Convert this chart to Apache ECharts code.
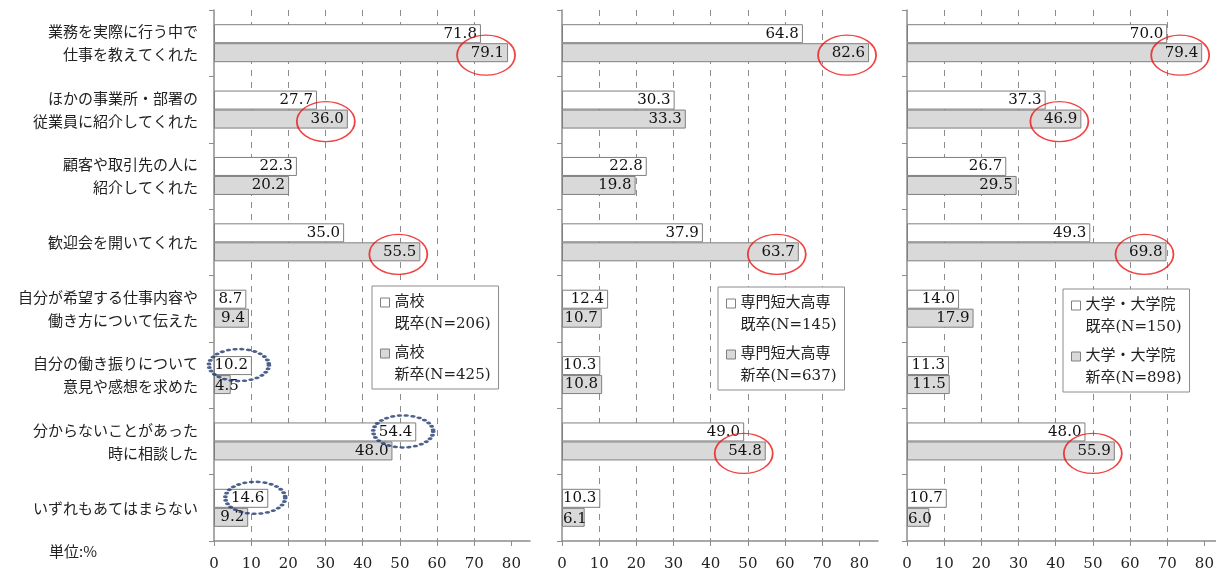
<!DOCTYPE html>
<html>
<head>
<meta charset="utf-8">
<script src="https://cdn.jsdelivr.net/npm/echarts@6/dist/echarts.min.js"></script>
<style>
html,body{margin:0;padding:0;background:#fff;}
#c1{width:1216px;height:577px;}
</style>
</head>
<body>
<div id="c1"></div>
<script>
// 項目
var categories = [
  '業務を実際に行う中で\n仕事を教えてくれた',
  'ほかの事業所・部署の\n従業員に紹介してくれた',
  '顧客や取引先の人に\n紹介してくれた',
  '歓迎会を開いてくれた',
  '自分が希望する仕事内容や\n働き方について伝えた',
  '自分の働き振りについて\n意見や感想を求めた',
  '分からないことがあった\n時に相談した',
  'いずれもあてはまらない'
];
var xTicks = [0, 10, 20, 30, 40, 50, 60, 70, 80];

// 高校
var kisotsuKoko   = [71.8, 27.7, 22.3, 35.0, 8.7, 10.2, 54.4, 14.6];
var shinsotsuKoko = [79.1, 36.0, 20.2, 55.5, 9.4, 4.5, 48.0, 9.2];
// 専門短大高専
var kisotsuSenmon   = [64.8, 30.3, 22.8, 37.9, 12.4, 10.3, 49.0, 10.3];
var shinsotsuSenmon = [82.6, 33.3, 19.8, 63.7, 10.7, 10.8, 54.8, 6.1];
// 大学・大学院
var kisotsuDaigaku   = [70.0, 37.3, 26.7, 49.3, 14.0, 11.3, 48.0, 10.7];
var shinsotsuDaigaku = [79.4, 46.9, 29.5, 69.8, 17.9, 11.5, 55.9, 6.0];

var legendKisotsu   = ['高校\n既卒(N=206)', '専門短大高専\n既卒(N=145)', '大学・大学院\n既卒(N=150)'];
var legendShinsotsu = ['高校\n新卒(N=425)', '専門短大高専\n新卒(N=637)', '大学・大学院\n新卒(N=898)'];

// 赤丸(新卒) と 点線丸(既卒) を付ける項目の番号
var redMarks  = [[0, 1, 3], [0, 3, 6], [0, 1, 3, 6]];
var blueMarks = [[5, 6, 7], [], []];

var kisotsuAll   = [kisotsuKoko, kisotsuSenmon, kisotsuDaigaku];
var shinsotsuAll = [shinsotsuKoko, shinsotsuSenmon, shinsotsuDaigaku];

var gridLeft = [214, 562, 907];
var legendPos = [[372, 286], [718, 287], [1063, 289]];

var serif = '"DejaVu Serif", "Noto Sans CJK JP", serif';
var gothic = '"Noto Sans CJK JP", sans-serif';
var iconPath = 'path://M0,0L0,0M0,44L0,44M0,6.5L9,6.5L9,15.5L0,15.5Z';

// 棒より幅の広いラベルは軸の位置から左寄せにする
function fitLabel(p) {
  if (p.labelRect.x < p.rect.x) {
    return {x: p.rect.x + 1, y: p.rect.y + p.rect.height / 2 + 2,
      align: 'left', verticalAlign: 'middle'};
  }
}

var grids = [], xAxes = [], yAxes = [], series = [], legends = [];

for (var i = 0; i < 3; i++) {
  grids.push({left: gridLeft[i], top: 10, width: 316, height: 531, outerBoundsMode: 'none'});
  xAxes.push({
    type: 'value', gridIndex: i, min: 0, max: 85, interval: 10,
    axisLine: {show: true, lineStyle: {color: '#8c8c8c', width: 1.5}},
    axisTick: {show: true, length: 5, customValues: xTicks, lineStyle: {color: '#8c8c8c'}},
    axisLabel: {
      customValues: xTicks, margin: 16, fontSize: 15, fontFamily: serif, color: '#222',
      formatter: function (v) { return v % 10 === 0 ? String(v) : ''; }
    },
    splitLine: {show: true, showMinLine: false, showMaxLine: false,
      lineStyle: {color: '#8c8c8c', type: [6, 6], width: 1}}
  });
  yAxes.push({
    type: 'category', gridIndex: i, inverse: true, data: categories,
    axisLine: {show: true, lineStyle: {color: '#8c8c8c', width: 1.5}},
    axisTick: {show: true, length: 5, lineStyle: {color: '#8c8c8c'}},
    axisLabel: {
      show: i === 0, fontSize: 15, lineHeight: 23, margin: 16,
      fontFamily: gothic, color: '#222', align: 'right'
    },
    splitLine: {show: false}
  });

  var lbl = {
    show: true, position: 'insideRight', distance: 4, offset: [0, 2],
    fontFamily: serif, fontSize: 15, color: '#111',
    formatter: function (p) { return p.value.toFixed(1); }
  };

  series.push({
    name: legendKisotsu[i], type: 'bar', xAxisIndex: i, yAxisIndex: i,
    data: kisotsuAll[i], barWidth: 19, barGap: '0%',
    itemStyle: {color: '#ffffff', borderColor: '#7f7f7f', borderWidth: 1},
    label: lbl, labelLayout: fitLabel, silent: true
  });
  series.push({
    name: legendShinsotsu[i], type: 'bar', xAxisIndex: i, yAxisIndex: i,
    data: shinsotsuAll[i], barWidth: 19, barGap: '0%',
    itemStyle: {color: '#d9d9d9', borderColor: '#7f7f7f', borderWidth: 1},
    label: lbl, labelLayout: fitLabel, silent: true
  });

  // 赤い楕円
  series.push({
    type: 'scatter', xAxisIndex: i, yAxisIndex: i, silent: true, z: 5,
    symbol: 'circle', symbolSize: [58, 40], symbolOffset: [-22, 12],
    itemStyle: {color: 'rgba(0,0,0,0)', borderColor: '#ee1111', borderWidth: 1.5},
    data: redMarks[i].map(function (k) { return [shinsotsuAll[i][k], k]; })
  });
  // 点線の楕円
  if (blueMarks[i].length) {
    series.push({
      type: 'scatter', xAxisIndex: i, yAxisIndex: i, silent: true, z: 5,
      symbol: 'circle', symbolSize: [60, 32], symbolOffset: [-13, -10],
      itemStyle: {color: 'rgba(0,0,0,0)', borderColor: '#1f3a70', borderWidth: 3.5,
        borderType: [0.5, 4.5], borderCap: 'round'},
      data: blueMarks[i].map(function (k) { return [kisotsuAll[i][k], k]; })
    });
  }

  legends.push({
    orient: 'vertical', left: legendPos[i][0], top: legendPos[i][1],
    selectedMode: false, itemWidth: 9, itemHeight: 44, itemGap: 6,
    padding: [5, 8, 2, 8], borderColor: '#8c8c8c', borderWidth: 1, backgroundColor: '#fff',
    textStyle: {fontSize: 15, lineHeight: 22, fontFamily: serif, color: '#222'},
    data: [
      {name: legendKisotsu[i], icon: iconPath,
        itemStyle: {color: '#ffffff', borderColor: '#7f7f7f', borderWidth: 1}},
      {name: legendShinsotsu[i], icon: iconPath,
        itemStyle: {color: '#d9d9d9', borderColor: '#7f7f7f', borderWidth: 1}}
    ]
  });
}

var chart = echarts.init(document.getElementById('c1'));
chart.setOption({
  animation: false,
  backgroundColor: '#fff',
  title: {
    text: '単位:%', left: 44, top: 539,
    textStyle: {fontSize: 15, fontWeight: 'normal', fontFamily: gothic, color: '#222'}
  },
  legend: legends,
  grid: grids,
  xAxis: xAxes,
  yAxis: yAxes,
  series: series
});
</script>
</body>
</html>
